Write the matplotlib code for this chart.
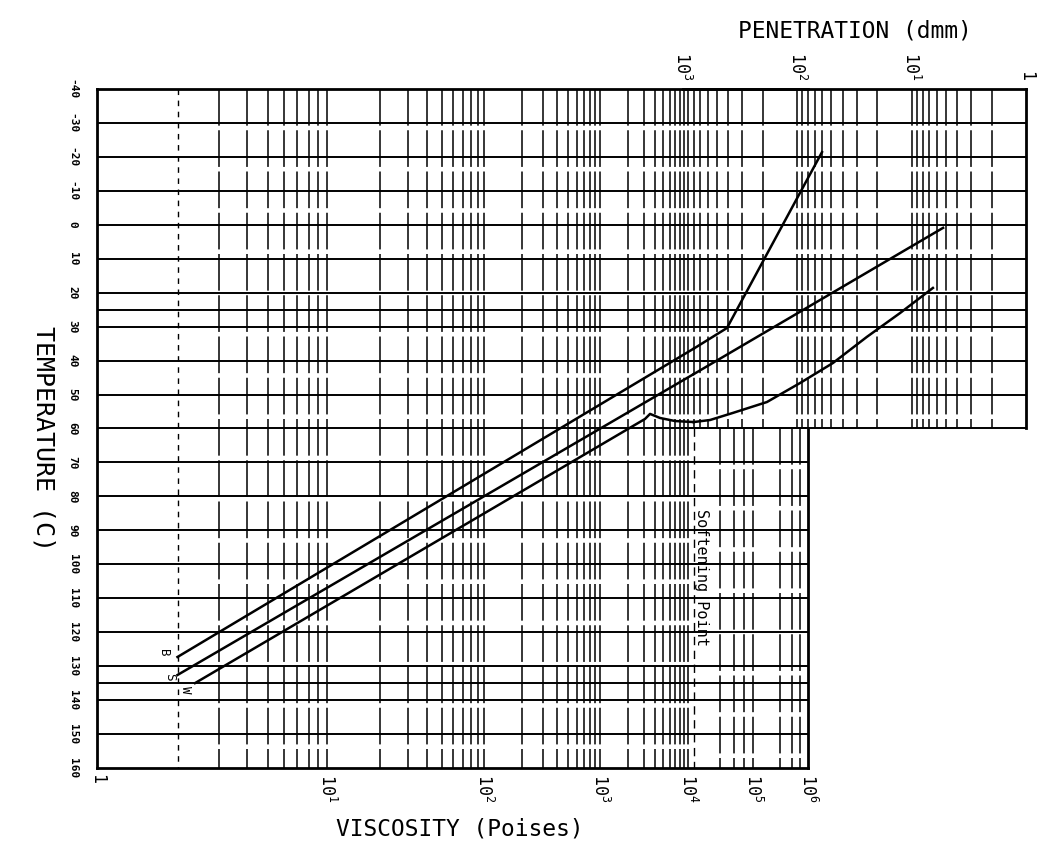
import numpy as np
import matplotlib.pyplot as plt

plt.rcParams['font.family'] = 'DejaVu Sans Mono'
plt.rcParams['mathtext.fontset'] = 'custom'
plt.rcParams['mathtext.rm'] = 'DejaVu Sans Mono'
plt.rcParams['mathtext.it'] = 'DejaVu Sans Mono'

# ---- chart values -------------------------------------------------------
temps = list(range(-40, 161, 10))            # temperature grid (C)
extra_temps = [25, 135]                      # test temperatures
upper_temps = [t for t in temps if t <= 60] + [25]

visc_ticks = [1, 1e1, 1e2, 1e3, 1e4, 1e5, 1e6]
visc_labels = ['1', '$10^1$', '$10^2$', '$10^3$', '$10^4$', '$10^5$', '$10^6$']
visc_full = [m * 10**k for k in range(4) for m in range(2, 11)]          # whole height
visc_lower = [3e4, 5e4, 7e4, 1e5, 3e5, 5e5, 7e5]                         # below 60 C only
visc_dotted = 2

pen_ticks = [1000, 100, 10, 1]
pen_labels = ['$10^3$', '$10^2$', '$10^1$', '1']
pen_grid = [m * 10**k for k in range(3) for m in range(2, 10) if m * 10**k <= 800] + [10, 100]

sp_visc = 1.2e4     # softening point, viscosity (P)
sp_pen = 800        # softening point, penetration (dmm)

# B line
b_visc = [2, sp_visc]
b_visc_T = [127.3, 36.5]
b_pen = [sp_pen, 409, 60.5]
b_pen_T = [36.5, 30.4, -21.4]

# S line
s_visc = [2, sp_visc]
s_visc_T = [132.6, 44.0]
s_pen = [sp_pen, 5.3]
s_pen_T = [44.0, 0.9]

# W line
w_visc = [2.36, 3070, 3510, 4585, 6925, sp_visc]
w_visc_T = [135.0, 57.2, 55.7, 56.9, 57.8, 58.1]
w_pen = [sp_pen, 575, 362, 183, 94, 48.5, 24.5, 12.6, 6.5]
w_pen_T = [58.1, 57.5, 55.4, 52.2, 46.6, 40.7, 33.0, 26.0, 18.6]

# ---- viscosity scale of the chart (decade positions as width fraction) ---
decade_frac = np.array([0, 0.3235, 0.5443, 0.7075, 0.8312, 0.9226, 1.0])
decade_h = np.log(np.arange(7) + 1.8)


def visc_fwd(x):
    u = np.log10(np.maximum(np.asarray(x, dtype=float), 0.02))
    return np.interp(np.log(u + 1.8), decade_h, decade_frac)


def visc_inv(f):
    h = np.interp(np.asarray(f, dtype=float), decade_frac, decade_h)
    return 10 ** (np.exp(h) - 1.8)


# ---- figure ------------------------------------------------------------
W, H = 1042, 852
fig = plt.figure(figsize=(W / 100, H / 100), dpi=100)
fig.patch.set_facecolor('white')

x0, x1, y0, y1 = 97, 808, 89, 768
ax = fig.add_axes([x0 / W, 1 - y1 / H, (x1 - x0) / W, (y1 - y0) / H])
ax.set_xscale('function', functions=(visc_fwd, visc_inv))
ax.set_xlim(1, 1e6)
ax.set_ylim(160, -40)

px0, px1 = 682.5, 1026
ymid = y0 + (y1 - y0) * 0.5
axp = fig.add_axes([px0 / W, 1 - ymid / H, (px1 - px0) / W, (ymid - y0) / H])
axp.set_xscale('log')
axp.set_xlim(1000, 1)
axp.set_ylim(60, -40)
axp.patch.set_visible(False)

hl = dict(color='black', lw=1.4)
vl = dict(colors='black', linewidth=1.1, linestyles=[(0, (24, 3))])

for t in temps[1:-1] + extra_temps:
    ax.axhline(t, **hl)
for t in upper_temps[1:]:
    axp.axhline(t, **hl)

ax.vlines([v for v in visc_full if v != visc_dotted], -40, 160, **vl)
ax.vlines(visc_lower, 60, 160, **vl)
ax.vlines(visc_dotted, -40, 160, colors='black', linewidth=1.0, linestyles=[(0, (4, 4))])
ax.vlines(sp_visc, 60, 160, colors='black', linewidth=1.0, linestyles=[(0, (6, 4))])
axp.vlines(pen_grid, -40, 60, **vl)

# curves
ax.plot(b_visc, b_visc_T, color='black', lw=1.8)
axp.plot(b_pen, b_pen_T, color='black', lw=1.8)
ax.plot(s_visc, s_visc_T, color='black', lw=1.8)
axp.plot(s_pen, s_pen_T, color='black', lw=1.8)
ax.plot(w_visc, w_visc_T, color='black', lw=1.8)
axp.plot(w_pen, w_pen_T, color='black', lw=1.8)

lab = dict(textcoords='offset points', rotation=-90, ha='center', va='center', fontsize=9)
ax.annotate('B', xy=(b_visc[0], b_visc_T[0]), xytext=(-10, 3), **lab)
ax.annotate('S', xy=(s_visc[0], s_visc_T[0]), xytext=(-6, -1.5), **lab)
ax.annotate('W', xy=(w_visc[0], w_visc_T[0]), xytext=(-7, -5), **lab)
ax.annotate('Softening Point', xy=(sp_visc, 104), xytext=(6, 0), textcoords='offset points',
            rotation=-90, ha='center', va='center', fontsize=11)

# spines
for s in ax.spines.values():
    s.set_linewidth(2)
ax.spines['right'].set_bounds(60, 160)
axp.spines['left'].set_visible(False)
axp.spines['bottom'].set_visible(False)
axp.spines['top'].set_linewidth(2)
axp.spines['right'].set_linewidth(2)

# ticks
ax.set_xticks(visc_ticks)
ax.set_xticklabels(visc_labels)
ax.xaxis.set_minor_locator(plt.NullLocator())
ax.tick_params(axis='x', length=0, pad=4, labelsize=12, labelrotation=-90)
ax.set_yticks(temps)
ax.set_yticklabels([str(t) for t in temps])
ax.tick_params(axis='y', length=0, pad=14, labelsize=8, labelrotation=-90)
for t in ax.get_yticklabels():
    t.set_fontweight('bold')
    t.set_va('center')

axp.xaxis.tick_top()
axp.set_xticks(pen_ticks)
axp.set_xticklabels(pen_labels)
axp.xaxis.set_minor_locator(plt.NullLocator())
axp.tick_params(axis='x', length=0, pad=6, labelsize=12, labelrotation=-90)
axp.set_yticks([])

fig.text(855 / W, 1 - 31 / H, 'PENETRATION (dmm)', ha='center', va='center', fontsize=16.5)
fig.text(460 / W, 1 - 829 / H, 'VISCOSITY (Poises)', ha='center', va='center', fontsize=16.5)
fig.text(43 / W, 1 - 438 / H, 'TEMPERATURE (C)', ha='center', va='center', fontsize=18, rotation=-90)

fig.savefig('out.png', dpi=100, facecolor='white')
